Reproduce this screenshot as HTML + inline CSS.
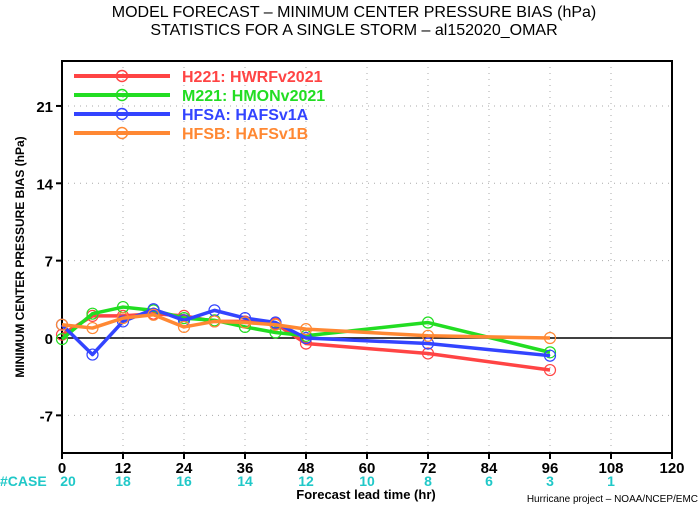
<!DOCTYPE html>
<html><head><meta charset="utf-8"><style>body{margin:0;background:#fff}svg{display:block;font-family:"Liberation Sans",sans-serif}</style></head>
<body>
<svg id="c" width="700" height="506">
<text x="354" y="17" text-anchor="middle" font-size="16">MODEL FORECAST – MINIMUM CENTER PRESSURE BIAS (hPa)</text>
<text x="354" y="35" text-anchor="middle" font-size="16">STATISTICS FOR A SINGLE STORM – al152020_OMAR</text>
<g id="grid"></g>
<rect x="62" y="61" width="610" height="392" fill="none" stroke="#000" stroke-width="2"/>
<line id="zero" x1="62" x2="672" stroke="#000" stroke-width="1.5"/>
<g id="ticks"></g>
<g id="series"></g>
<g id="legend"></g>
<text transform="translate(24,257) rotate(-90)" text-anchor="middle" font-size="12" font-weight="bold">MINIMUM CENTER PRESSURE BIAS (hPa)</text>
<text x="0" y="486" font-size="14" font-weight="bold" fill="#20c8c8">#CASE</text>
<text x="366" y="499" text-anchor="middle" font-size="13" font-weight="bold">Forecast lead time (hr)</text>
<text x="698" y="502" text-anchor="end" font-size="10">Hurricane project – NOAA/NCEP/EMC</text>
</svg>
<script>
const hours=[0,6,12,18,24,30,36,42,48,72,96];
const h221=[0.3,2.0,2.0,2.2,2.0,1.5,1.5,1.3,-0.5,-1.4,-2.9];
const m221=[-0.1,2.2,2.8,2.5,1.8,1.6,1.0,0.5,0.2,1.4,-1.3];
const hfsa=[1.2,-1.5,1.5,2.6,1.6,2.5,1.8,1.4,0.0,-0.5,-1.6];
const hfsb=[1.2,0.9,1.8,2.1,1.0,1.5,1.4,1.2,0.8,0.2,0.0];
const xTicks=[0,12,24,36,48,60,72,84,96,108,120];
const yTicks=[-7,0,7,14,21];
const caseHours=[0,12,24,36,48,60,72,84,96,108];
const caseCounts=[20,18,16,14,12,10,8,6,3,1];
const names=["H221: HWRFv2021","M221: HMONv2021","HFSA: HAFSv1A","HFSB: HAFSv1B"];
const colors=["#ff4444","#22dd22","#3344ff","#ff8833"];
const X=h=>62+h*610/120;
const Y=v=>338-v*11.05;
const NS="http://www.w3.org/2000/svg";
function mk(tag,parent,attrs){const e=document.createElementNS(NS,tag);for(const k in attrs)e.setAttribute(k,attrs[k]);parent.appendChild(e);return e;}
const grid=document.getElementById('grid'),ticks=document.getElementById('ticks'),ser=document.getElementById('series'),leg=document.getElementById('legend');
document.getElementById('zero').setAttribute('y1',Y(0));document.getElementById('zero').setAttribute('y2',Y(0));
xTicks.forEach(t=>{
 const g=mk('line',grid,{x1:X(t),x2:X(t),y1:61,y2:453,stroke:'#aaa','stroke-dasharray':'1,5'});
 
 const l=mk('line',ticks,{x1:X(t),x2:X(t),y1:453,y2:459,stroke:'#000','stroke-width':2});
 
 const tx=mk('text',ticks,{x:X(t),y:473,'text-anchor':'middle','font-size':15,'font-weight':'bold'});tx.textContent=t;
 
});
yTicks.forEach(t=>{
 const g=mk('line',grid,{x1:62,x2:672,y1:Y(t),y2:Y(t),stroke:'#aaa','stroke-dasharray':'1,5'});
 
 const l=mk('line',ticks,{x1:56,x2:62,y1:Y(t),y2:Y(t),stroke:'#000','stroke-width':2});
 
 const tx=mk('text',ticks,{x:53,y:Y(t)+6,'text-anchor':'end','font-size':15,'font-weight':'bold'});tx.textContent=t;
 
});
caseHours.forEach((h,i)=>{
 const tx=mk('text',ticks,{x:X(h)+(i==0?6:0),y:486,'text-anchor':'middle','font-size':14,'font-weight':'bold',fill:'#20c8c8'});tx.textContent=caseCounts[i];
 
});
[h221,m221,hfsa,hfsb].forEach((d,s)=>{
 const g=mk('g',ser,{});
 
 const p=mk('polyline',g,{points:d.map((v,i)=>X(hours[i])+','+Y(v)).join(' '),fill:'none',stroke:colors[s],'stroke-width':3.5,'stroke-linejoin':'round'});
 
 d.forEach((v,i)=>{const c=mk('circle',g,{cx:X(hours[i]),cy:Y(v),r:5.5,fill:'none',stroke:colors[s],'stroke-width':1.2});
  });
 const ly=76+s*19;
 const lg=mk('g',leg,{});
 
 mk('line',lg,{x1:74,x2:170,y1:ly,y2:ly,stroke:colors[s],'stroke-width':4});
 mk('circle',lg,{cx:122,cy:ly,r:5.5,fill:'none',stroke:colors[s],'stroke-width':1.5});
 const t=mk('text',lg,{x:182,y:ly+6,'font-size':16,'font-weight':'bold',fill:colors[s]});t.textContent=names[s];
});
</script>
</body></html>
